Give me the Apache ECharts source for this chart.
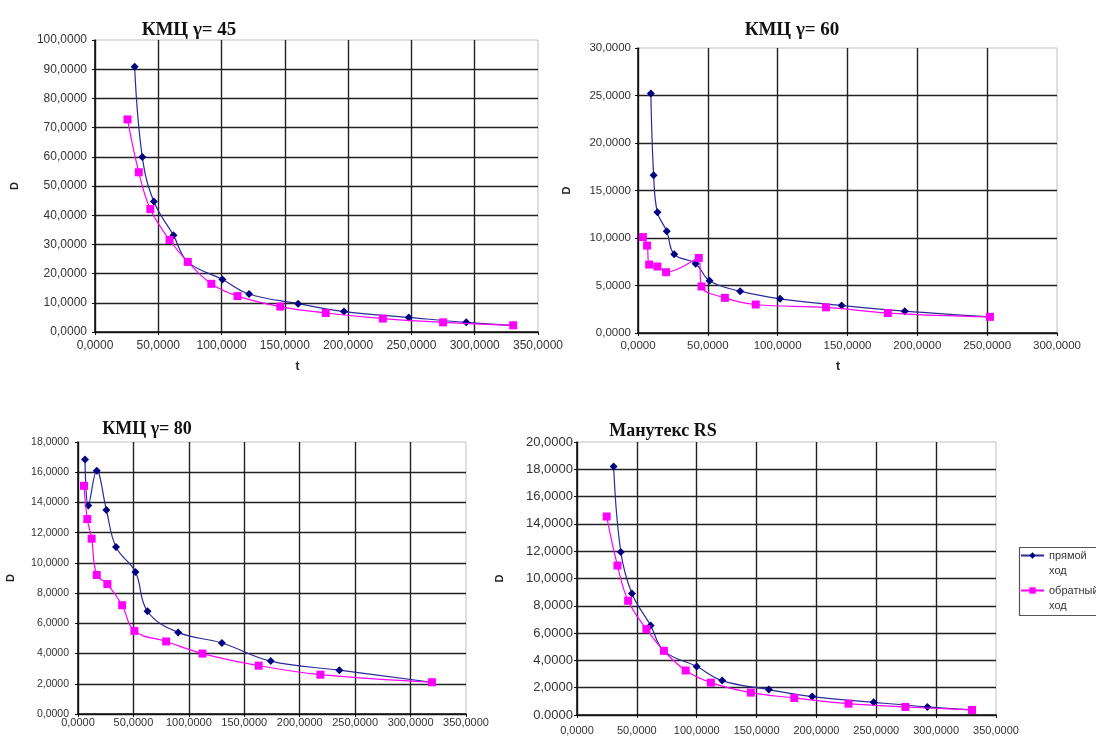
<!DOCTYPE html>
<html>
<head>
<meta charset="utf-8">
<script src="https://cdn.jsdelivr.net/npm/echarts@6/dist/echarts.min.js"></script>
<style>
html,body{margin:0;padding:0;background:#fff;}
#c{width:1096px;height:744px;}
</style>
</head>
<body>
<div id="c"></div>
<script>
// ---- data ----
var titles = ['КМЦ γ= 45', 'КМЦ γ= 60', 'КМЦ γ= 80', 'Манутекс RS'];
var seriesNames = ['прямой ход', 'обратный ход'];

// КМЦ γ=45
var t45Fwd = [31.3, 37.4, 46.5, 62.0, 73.3, 100.7, 121.7, 160.5, 196.7, 247.9, 293.3, 330.4];
var d45Fwd = [90.8, 59.9, 44.7, 33.1, 24.0, 18.0, 13.0, 9.7, 7.0, 5.0, 3.3, 2.3];
var t45Rev = [25.7, 34.6, 43.7, 58.9, 73.3, 91.9, 112.6, 146.4, 182.3, 227.4, 275.0, 330.4];
var d45Rev = [72.8, 54.7, 42.1, 31.5, 24.0, 16.5, 12.3, 8.7, 6.5, 4.6, 3.3, 2.3];

// КМЦ γ=60
var t60Fwd = [9.2, 11.2, 13.9, 20.6, 25.9, 41.3, 51.2, 73.1, 101.7, 145.8, 191.0, 252.0];
var d60Fwd = [25.2, 16.6, 12.7, 10.7, 8.3, 7.3, 5.5, 4.4, 3.6, 2.9, 2.3, 1.7];
var t60Rev = [3.5, 6.5, 8.0, 13.9, 20.1, 43.5, 45.5, 62.2, 84.3, 134.6, 178.9, 252.0];
var d60Rev = [10.1, 9.2, 7.2, 7.0, 6.4, 7.9, 4.9, 3.7, 3.0, 2.7, 2.1, 1.7];

// КМЦ γ=80
var t80Fwd = [6.3, 9.3, 16.9, 25.6, 34.3, 51.8, 62.7, 90.4, 129.8, 173.8, 235.8, 319.3];
var d80Fwd = [16.84, 13.8, 16.1, 13.5, 11.05, 9.4, 6.8, 5.4, 4.7, 3.5, 2.9, 2.1];
var t80Rev = [5.4, 8.4, 12.3, 16.9, 26.5, 39.8, 50.9, 79.5, 112.3, 163.0, 218.7, 319.3];
var d80Rev = [15.1, 12.9, 11.6, 9.2, 8.6, 7.2, 5.5, 4.8, 4.0, 3.2, 2.6, 2.1];

// Манутекс RS
var tRSFwd = [30.6, 36.6, 45.9, 61.5, 72.6, 100.0, 121.3, 160.2, 196.5, 247.8, 292.7, 330.0];
var dRSFwd = [18.2, 11.95, 8.9, 6.56, 4.7, 3.55, 2.52, 1.86, 1.35, 0.93, 0.59, 0.37];
var tRSRev = [24.8, 33.8, 42.7, 58.0, 72.6, 90.8, 111.8, 145.2, 181.5, 226.8, 274.3, 330.0];
var dRSRev = [14.54, 10.95, 8.37, 6.29, 4.70, 3.26, 2.37, 1.64, 1.25, 0.83, 0.59, 0.37];

// axis ranges
var xMax = [350, 300, 350, 350];
var xStep = [50, 50, 50, 50];
var yMax = [100, 30, 18, 20];
var yStep = [10, 5, 2, 2];

function pairs(t, d) { return t.map(function (v, i) { return [v, d[i]]; }); }
var fwd = [pairs(t45Fwd, d45Fwd), pairs(t60Fwd, d60Fwd), pairs(t80Fwd, d80Fwd), pairs(tRSFwd, dRSFwd)];
var rev = [pairs(t45Rev, d45Rev), pairs(t60Rev, d60Rev), pairs(t80Rev, d80Rev), pairs(tRSRev, dRSRev)];

// ---- layout ----
var grids = [
  {left: 95, top: 40, width: 443, height: 292},
  {left: 638, top: 48, width: 419, height: 285},
  {left: 78, top: 442, width: 388, height: 272},
  {left: 577, top: 442, width: 419, height: 273}
];
var titlePos = [[184, 25], [787, 25], [142, 424], [658, 426]];
var titleSize = [19, 19, 18, 18];
var yNameGap = [75, 66, 62, 72];
var xNameGap = [29, 28, 32, 32];
var xNamePad = [38, 19, 20, 0];
var xLabelSize = [12, 11.5, 11, 11];
var yLabelSize = [12, 11.5, 10.5, 13];
var xLabelMargin = [8, 7, 3, 10];
var yLabelMargin = [8, 7, 9, 4];

function fmt(v) { return v.toFixed(4).replace('.', ','); }

var option = {
  backgroundColor: '#ffffff',
  animation: false,
  title: titles.map(function (s, i) {
    return {
      text: s, left: titlePos[i][0], top: titlePos[i][1],
      textAlign: 'center', textVerticalAlign: 'middle',
      textStyle: {fontFamily: 'Liberation Serif', fontWeight: 'bold', fontSize: titleSize[i], color: '#111'}
    };
  }),
  legend: {
    data: seriesNames,
    orient: 'vertical',
    left: 1020, top: 533,
    padding: 0,
    itemGap: -10,
    itemWidth: 23, itemHeight: 8,
    formatter: function (n) { return ' \n' + n.replace(' ', '\n'); },
    textStyle: {fontFamily: 'Liberation Sans', fontSize: 11, color: '#333', lineHeight: 15}
  },
  graphic: [{
    type: 'rect', left: 1017, top: 545, z: 10,
    shape: {width: 100, height: 68},
    style: {fill: 'none', stroke: '#555', lineWidth: 1.2}
  }],
  grid: grids.map(function (g) {
    return {left: g.left, top: g.top, width: g.width, height: g.height, show: true,
      borderColor: '#c0c0c0', borderWidth: 1, backgroundColor: '#fff',
      containLabel: false, outerBoundsMode: 'none'};
  }),
  xAxis: grids.map(function (g, i) {
    return {
      type: 'value', gridIndex: i, min: 0, max: xMax[i], interval: xStep[i],
      name: 't', nameLocation: 'middle', nameGap: xNameGap[i],
      nameTextStyle: {fontFamily: 'Liberation Sans', fontWeight: 'bold', fontSize: 12, color: '#222', padding: [0, xNamePad[i], 0, 0]},
      axisLine: {show: true, onZero: false, lineStyle: {color: '#111', width: 1.5}},
      axisTick: {show: true, length: 3, lineStyle: {color: '#111'}},
      axisLabel: {formatter: fmt, fontFamily: 'Liberation Sans', fontSize: xLabelSize[i], color: '#333', margin: xLabelMargin[i]},
      splitLine: {show: true, showMaxLine: false, lineStyle: {color: '#222', width: 1.4}}
    };
  }),
  yAxis: grids.map(function (g, i) {
    return {
      type: 'value', gridIndex: i, min: 0, max: yMax[i], interval: yStep[i],
      name: 'D', nameLocation: 'middle', nameGap: yNameGap[i], nameRotate: 90,
      nameTextStyle: {fontFamily: 'Liberation Sans', fontWeight: 'bold', fontSize: 11, color: '#222'},
      axisLine: {show: true, onZero: false, lineStyle: {color: '#111', width: 1.5}},
      axisTick: {show: true, length: 3, lineStyle: {color: '#111'}},
      axisLabel: {
        formatter: i === 3 ? function (v) { return v === 0 ? '0.0000' : fmt(v); } : fmt,
        fontFamily: 'Liberation Sans', fontSize: yLabelSize[i], color: '#333', margin: yLabelMargin[i]
      },
      splitLine: {show: true, showMaxLine: false, lineStyle: {color: '#222', width: 1.4}}
    };
  }),
  series: []
};

for (var i = 0; i < 4; i++) {
  option.series.push({
    name: seriesNames[0], type: 'line', xAxisIndex: i, yAxisIndex: i,
    data: fwd[i], smooth: 0.4, symbol: 'diamond', symbolSize: 8,
    itemStyle: {color: '#000080'}, lineStyle: {color: '#2a2a9a', width: 1.2}, z: 3
  });
}
for (var j = 0; j < 4; j++) {
  option.series.push({
    name: seriesNames[1], type: 'line', xAxisIndex: j, yAxisIndex: j,
    data: rev[j], smooth: 0.4, symbol: 'rect', symbolSize: 8,
    itemStyle: {color: '#ff00ff'}, lineStyle: {color: '#ff00ff', width: 1.2}, z: 4
  });
}

var chart = echarts.init(document.getElementById('c'), null, {renderer: 'canvas'});
chart.setOption(option);
</script>
</body>
</html>
